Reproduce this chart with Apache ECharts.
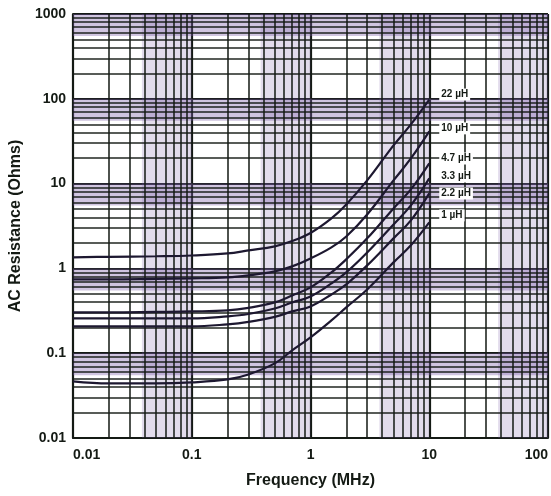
<!DOCTYPE html>
<html><head><meta charset="utf-8">
<script src="https://cdn.jsdelivr.net/npm/echarts@6/dist/echarts.min.js"></script>
<style>html,body{margin:0;padding:0;background:#fff}#c{width:551px;height:496px}</style>
</head><body><div id="c"></div>
<script>
// ---- data ----
const freqMHz = [0.01,0.02,0.05,0.1,0.2,0.3,0.5,0.7,1,1.5,2,3,5,7,10];
const inductors = ['22 µH','10 µH','4.7 µH','3.3 µH','2.2 µH','1 µH'];
const r22uH  = [1.35,1.37,1.39,1.42,1.50,1.63,1.82,2.10,2.62,3.89,5.68,10.9,28.2,49.9,98];
const r10uH  = [0.742,0.742,0.752,0.762,0.783,0.827,0.922,1.056,1.31,1.77,2.38,4.33,10.9,19.8,41.3];
const r4_7uH = [0.303,0.303,0.307,0.311,0.320,0.342,0.397,0.480,0.597,0.897,1.28,2.26,5.10,8.54,17.3];
const r3_3uH = [0.257,0.257,0.257,0.257,0.272,0.290,0.337,0.397,0.467,0.665,0.897,1.54,3.30,5.53,11.5];
const r2_2uH = [0.207,0.207,0.207,0.207,0.219,0.234,0.268,0.311,0.356,0.493,0.648,1.085,2.26,3.68,7.66];
const r1uH   = [0.0465,0.044,0.044,0.0453,0.0491,0.0562,0.0758,0.108,0.1536,0.2436,0.347,0.565,1.177,1.87,3.49];
const xTicks = [0.01,0.1,1,10,100];
const yTicks = [0.01,0.1,1,10,100,1000];
const minorSteps = [2,3,4,5,6,7,8,9];

const seriesValues = [r22uH,r10uH,r4_7uH,r3_3uH,r2_2uH,r1uH];
const labelDy = [-5,-3,-5,-2,0,-7];

const fmt = v => String(+(+v).toPrecision(6));
const ink = '#141a14';

// minor grid lines (2..9 within each decade) through the axes' scales
const minorX = [], minorY = [];
xTicks.slice(0,-1).forEach(d => minorSteps.forEach(m => minorX.push({xAxis: +(d*m).toPrecision(6)})));
yTicks.slice(0,-1).forEach(d => minorSteps.forEach(m => minorY.push({yAxis: +(d*m).toPrecision(6)})));
// purple tint bands of the scanned paper (upper part of each decade)
const bands = [];
yTicks.slice(1).forEach(d => bands.push([{yAxis: d*0.55, itemStyle:{color:'rgba(125,95,170,0.36)'}},{yAxis: d}]));
xTicks.slice(1).forEach(d => bands.push([{xAxis: d*0.38, itemStyle:{color:'rgba(125,95,170,0.22)'}},{xAxis: d}]));

const chart = echarts.init(document.getElementById('c'), null, {renderer:'canvas'});
const series = [{
  type:'line', name:'grid', data:[], silent:true, z:1,
  markArea:{silent:true, data:bands},
  markLine:{silent:true, symbol:'none', animation:false, label:{show:false},
    lineStyle:{color:ink, width:1.6, type:'solid', opacity:0.95},
    emphasis:{disabled:true},
    data: minorX.concat(minorY)}
}];
inductors.forEach((name,i) => {
  series.push({
    type:'line', name, z:5, smooth:0.4, symbol:'none',
    lineStyle:{color:'#1d1830', width:2.2},
    data: freqMHz.map((f,k) => [f, seriesValues[i][k]]),
    endLabel:{show:true, formatter:name, offset:[2,labelDy[i]],
      fontFamily:'Liberation Sans, Arial, sans-serif', fontWeight:'bold', fontSize:10,
      color:ink, backgroundColor:'#fff', padding:[1,2]}
  });
});

chart.setOption({
  animation:false,
  backgroundColor:'#fff',
  grid:{left:72, right:-1, top:14, bottom:58},
  xAxis:{type:'log', logBase:10, min:0.01, max:100,
    name:'Frequency (MHz)', nameLocation:'middle', nameGap:35,
    nameTextStyle:{fontFamily:'Liberation Sans, Arial, sans-serif', fontWeight:'bold', fontSize:16, color:ink},
    axisLine:{show:true, lineStyle:{color:ink, width:2}},
    axisTick:{show:false},
    axisLabel:{formatter:fmt, margin:10, alignMinLabel:'left', alignMaxLabel:'right',
      fontFamily:'Liberation Sans, Arial, sans-serif', fontWeight:'bold', fontSize:14, color:ink},
    splitLine:{show:true, lineStyle:{color:ink, width:2.2}},
    minorTick:{show:false}, minorSplitLine:{show:false}},
  yAxis:{type:'log', logBase:10, min:0.01, max:1000,
    name:'AC Resistance (Ohms)', nameLocation:'middle', nameGap:48,
    nameTextStyle:{fontFamily:'Liberation Sans, Arial, sans-serif', fontWeight:'bold', fontSize:16, color:ink},
    axisLine:{show:true, lineStyle:{color:ink, width:2}},
    axisTick:{show:false},
    axisLabel:{formatter:fmt, margin:7,
      fontFamily:'Liberation Sans, Arial, sans-serif', fontWeight:'bold', fontSize:14, color:ink},
    splitLine:{show:true, lineStyle:{color:ink, width:2.2}},
    minorTick:{show:false}, minorSplitLine:{show:false}},
  series
});
</script></body></html>
